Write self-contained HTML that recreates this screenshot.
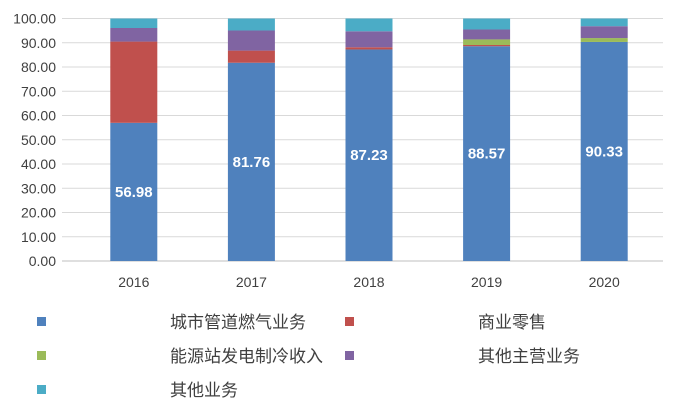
<!DOCTYPE html>
<html><head><meta charset="utf-8"><style>
body{margin:0;background:#fff;font-family:"Liberation Sans","Noto Sans CJK SC",sans-serif}
</style></head><body>
<svg id="c" width="680" height="415" style="display:block"></svg>
<script>
const categories=["2016","2017","2018","2019","2020"];
const seriesNames=["城市管道燃气业务","商业零售","能源站发电制冷收入","其他主营业务","其他业务"];
const s1=[56.98,81.76,87.23,88.57,90.33];
const s2=[33.5,5.0,0.9,0.5,0];
const s3=[0,0,0,2.3,1.6];
const s4=[5.6,8.3,6.6,4.1,4.9];
const s5=[3.92,4.94,5.27,4.53,3.17];
const yTicks=[0,10,20,30,40,50,60,70,80,90,100];
const colors=["#4f81bd","#c0504d","#9bbb59","#8064a2","#4bacc6"];
const series=[s1,s2,s3,s4,s5];
const NS="http://www.w3.org/2000/svg";
const svg=document.getElementById('c');
const L=75,R=663,T=18.5,B=261;
const y=v=>B-(v/100)*(B-T);
const bw=(R-L)/categories.length;
const x=i=>L+bw*(i+0.5);
function el(t,a){const e=document.createElementNS(NS,t);for(const k in a)e.setAttribute(k,a[k]);svg.appendChild(e);return e;}
yTicks.forEach(t=>{
 const g=el('line',{x1:62,x2:R,y1:y(t),y2:y(t),stroke:t===0?'#bfbfbf':'#d9d9d9','stroke-width':1});
 
 
 const tx=el('text',{x:56,y:y(t)+5,'text-anchor':'end','font-size':14,fill:'#404040'});
 tx.textContent=t.toFixed(2);
 
 
});
categories.forEach((c,i)=>{
 let acc=0;
 series.forEach((s,k)=>{
  const v=s[i]; if(v<=0){return;}
  const r=el('rect',{x:x(i)-23.5,width:47,y:y(acc+v),height:y(acc)-y(acc+v),fill:colors[k]});
  
  
  acc+=v;
 });
 const lb=el('text',{x:x(i),y:y(s1[i]/2)+5,'text-anchor':'middle','font-size':15,'font-weight':'bold',fill:'#fff'});
 lb.textContent=s1[i].toFixed(2);
 
 
 const xl=el('text',{x:x(i),y:287,'text-anchor':'middle','font-size':14,fill:'#404040'});
 xl.textContent=c;
 
 
});
const lpos=[[37,170,322],[345,478,322],[37,170,356],[345,478,356],[37,170,390]];
seriesNames.forEach((n,k)=>{
 const p=lpos[k];
 const sq=el('rect',{x:p[0],y:p[2]-5,width:9,height:9,fill:colors[k]});
 
 
 const t=el('text',{x:p[1],y:p[2]+6,'font-size':17,fill:'#404040'});
 t.textContent=n;
 
 
});
</script>
</body></html>
